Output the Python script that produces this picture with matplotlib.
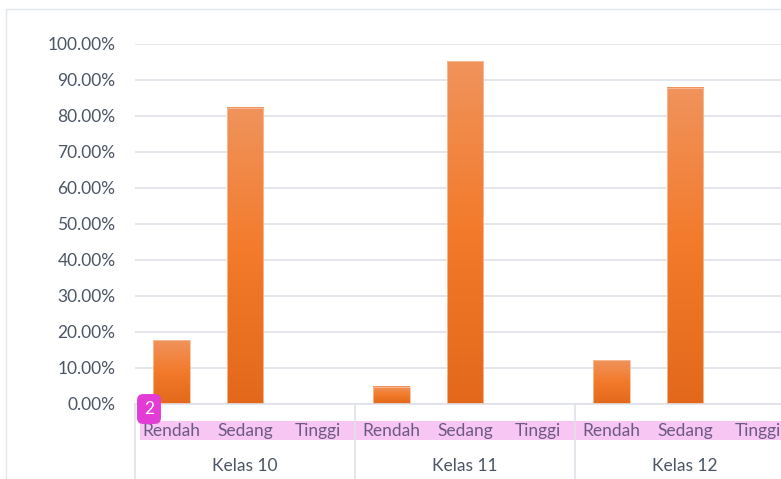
import numpy as np
import matplotlib
matplotlib.use("Agg")
import matplotlib.pyplot as plt
from matplotlib.colors import LinearSegmentedColormap
from matplotlib.patches import Rectangle
from matplotlib.ticker import PercentFormatter

# Data
groups = ["Kelas 10", "Kelas 11", "Kelas 12"]
levels = ["Rendah", "Sedang", "Tinggi"]
kelas10 = [0.1765, 0.8235, 0.0]
kelas11 = [0.0476, 0.9524, 0.0]
kelas12 = [0.1220, 0.8780, 0.0]
yticks = np.arange(0, 1.01, 0.1)

values = kelas10 + kelas11 + kelas12
labels = levels * len(groups)
x = np.arange(len(values))

W, H = 781, 479
fig = plt.figure(figsize=(W / 100, H / 100), dpi=100)
plt.rcParams["font.family"] = ["Lato", "DejaVu Sans"]
fs = 12.5

# plot area: categories start at x=135, 0% at y=404, 100% at y=44
unit = 220 / 3
left_px, bottom_px, top_px = 135, 404, 44
ax = fig.add_axes([left_px / W, 1 - bottom_px / H, (W - left_px) / W, (bottom_px - top_px) / H])

# chart border
fig.patches.append(Rectangle((6 / W, -0.1), 1.2, 1 - 9 / H + 0.1, transform=fig.transFigure,
                             fill=False, edgecolor="#e3e6ec", linewidth=1))

grid_c = "#dfe2e8"
ax.set_yticks(yticks)
ax.yaxis.set_major_formatter(PercentFormatter(1.0, decimals=2))
ax.grid(axis="y", color=grid_c, linewidth=1.2)
ax.set_axisbelow(True)
ax.tick_params(axis="y", length=0, pad=14, labelsize=fs, labelcolor="#4b5566")
ax.tick_params(axis="x", length=0, labelbottom=False)
for s in ["top", "right", "left"]:
    ax.spines[s].set_visible(False)
ax.spines["bottom"].set_color(grid_c)
ax.spines["bottom"].set_linewidth(1.2)

# gradient bars
cmap = LinearSegmentedColormap.from_list("og", ["#e3681b", "#f37a2a", "#f0935c"])
grad = np.linspace(0, 1, 256).reshape(-1, 1)
bw = 0.5
bars = ax.bar(x, values, width=bw, color="none", edgecolor="#f6c09c", linewidth=0.6, zorder=3)
for b, v in zip(bars, values):
    if v <= 0:
        continue
    ax.imshow(grad, cmap=cmap, origin="lower", aspect="auto", zorder=2,
              extent=(b.get_x(), b.get_x() + bw, 0, v))
ax.set_xlim(-0.5, -0.5 + (W - left_px) / unit)
ax.set_ylim(0, 1)

# category axis
tr = ax.get_xaxis_transform()
ppx = 1 / (bottom_px - top_px)
band = Rectangle(((140 - left_px) / unit - 0.5, -(440 - bottom_px) * ppx), 20, 19 * ppx,
                 transform=tr, clip_on=False, facecolor="#f7c6f2", edgecolor="none", zorder=1)
ax.add_patch(band)
for xi, lab in zip(x, labels):
    ax.text(xi, -(431 - bottom_px) * ppx, lab, transform=tr, ha="center", va="center",
            fontsize=fs, color="#6c5a84", clip_on=False)
for gi, g in enumerate(groups):
    ax.text(gi * 3 + 1, -(466 - bottom_px) * ppx, g, transform=tr, ha="center", va="center",
            fontsize=fs, color="#4b5566", clip_on=False)
    ax.plot([gi * 3 - 0.5] * 2, [0, -(H - bottom_px) * ppx], transform=tr, color=grid_c,
            linewidth=1.2, clip_on=False)

# magenta badge
fig.text(149 / W, 1 - 409 / H, "2", ha="center", va="center", color="white", fontsize=fs,
         bbox=dict(boxstyle="round,pad=0.4,rounding_size=0.35", facecolor="#e23bd6", edgecolor="none"))

fig.savefig("out.png", dpi=100)
